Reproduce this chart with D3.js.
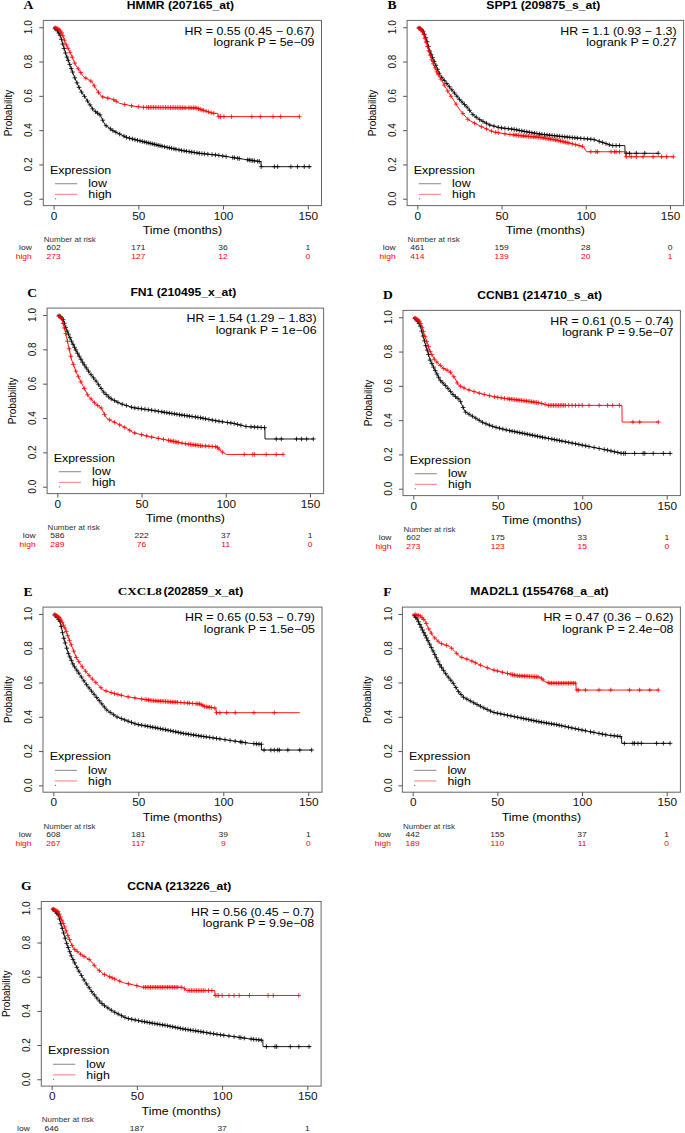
<!DOCTYPE html>
<html><head><meta charset="utf-8">
<script src="https://cdn.jsdelivr.net/npm/d3@7"></script>
<style>html,body{margin:0;padding:0;background:#fff}</style>
</head><body>
<svg id="chart" width="685" height="1133"></svg>
<script>
// ---------------- DATA ----------------
const xTickValues = [0, 50, 100, 150];
const yTickValues = [0, 0.2, 0.4, 0.6, 0.8, 1.0];
const yTickLabels = ["0.0", "0.2", "0.4", "0.6", "0.8", "1.0"];
const riskTimes = [0, 50, 100, 150];
const groupNames = ["low", "high"];

const panelLetters = ["A", "B", "C", "D", "E", "F", "G"];
const geneNames = ["HMMR", "SPP1", "FN1", "CCNB1", "CXCL8", "MAD2L1", "CCNA"];
const probeIds = ["(207165_at)", "(209875_s_at)", "(210495_x_at)", "(214710_s_at)", "(202859_x_at)", "(1554768_a_at)", "(213226_at)"];
const hrLabels = ["HR = 0.55 (0.45 \u2212 0.67)", "HR = 1.1 (0.93 \u2212 1.3)", "HR = 1.54 (1.29 \u2212 1.83)",
  "HR = 0.61 (0.5 \u2212 0.74)", "HR = 0.65 (0.53 \u2212 0.79)", "HR = 0.47 (0.36 \u2212 0.62)", "HR = 0.56 (0.45 \u2212 0.7)"];
const pLabels = ["logrank P = 5e\u221209", "logrank P = 0.27", "logrank P = 1e\u221206", "logrank P = 9.5e\u221207",
  "logrank P = 1.5e\u221205", "logrank P = 2.4e\u221208", "logrank P = 9.9e\u221208"];
const riskLow = [[602, 171, 36, 1], [461, 159, 28, 0], [586, 222, 37, 1], [602, 175, 33, 1], [608, 181, 39, 1], [442, 155, 37, 1], [646, 187, 37, 1]];
const riskHigh = [[273, 127, 12, 0], [414, 139, 20, 1], [289, 76, 11, 0], [273, 123, 15, 0], [267, 117, 9, 0], [189, 110, 11, 0], null];

// survival curves: [time (months), probability]
const hmmrLow = [[0,1],[2,0.985],[4,0.95],[5,0.916],[7,0.85],[10,0.77],[12.7,0.70],[15.7,0.634],[19.6,0.576],[23.5,0.517],[27.5,0.488],[30.4,0.43],[35.3,0.395],[43,0.358],[49,0.342],[57,0.323],[66.7,0.30],[76.5,0.28],[86,0.265],[96,0.255],[106,0.24],[115.7,0.225],[122.4,0.216],[122.5,0.187],[152,0.187]];
const hmmrHigh = [[0,1],[3,0.99],[5,0.965],[7,0.907],[10,0.848],[13,0.78],[17.6,0.712],[22.5,0.683],[25.5,0.634],[28.4,0.595],[35,0.58],[39,0.556],[47,0.54],[53,0.533],[84,0.53],[87,0.52],[89,0.514],[94,0.498],[96.9,0.498],[97,0.479],[145,0.479]];
const spp1Low = [[0,1],[2,0.99],[3.6,0.975],[5.5,0.926],[7.5,0.858],[10.5,0.79],[13.5,0.72],[17.4,0.673],[21.4,0.624],[25.3,0.576],[29.3,0.537],[33.2,0.488],[37.2,0.46],[43,0.43],[49,0.414],[57,0.405],[65,0.39],[72.8,0.377],[82.7,0.366],[92.6,0.356],[104.5,0.346],[110.4,0.327],[115.4,0.31],[123.2,0.31],[123.3,0.265],[143,0.265]];
const spp1High = [[0,1],[2,0.99],[3.6,0.965],[6,0.887],[8.5,0.81],[11.5,0.74],[14.4,0.69],[17.4,0.638],[21.4,0.576],[25.3,0.517],[30.3,0.46],[37.2,0.424],[45,0.39],[53,0.377],[63,0.366],[72.8,0.358],[82.7,0.342],[92.6,0.319],[98.5,0.304],[100.5,0.274],[123.6,0.274],[123.7,0.245],[152,0.245]];
const fn1Low = [[0,1],[2,0.99],[3.6,0.97],[5.5,0.913],[8.5,0.845],[11.5,0.786],[15.4,0.718],[19.4,0.66],[23.4,0.61],[27.3,0.553],[31.3,0.515],[37.2,0.485],[45,0.46],[55,0.447],[65,0.431],[74.8,0.416],[84.7,0.402],[94.6,0.383],[104.5,0.369],[112.4,0.35],[123.2,0.344],[123.3,0.278],[152,0.278]];
const fn1High = [[0,1],[2.6,0.98],[4.5,0.913],[6.5,0.825],[8.5,0.738],[11.5,0.66],[15.4,0.583],[18.4,0.528],[22.4,0.485],[26.3,0.456],[27.5,0.43],[29.3,0.398],[35.2,0.369],[41.2,0.34],[45,0.315],[55,0.291],[65,0.272],[74.8,0.252],[84.7,0.239],[94.6,0.233],[97.6,0.204],[100.5,0.188],[134,0.188]];
const ccnb1Low = [[0,1],[2,0.985],[4,0.955],[7,0.848],[10,0.75],[12.8,0.693],[15.8,0.634],[19.7,0.595],[23.7,0.547],[27.6,0.517],[30.6,0.449],[35.5,0.42],[41.4,0.385],[47.4,0.362],[55.3,0.342],[65,0.323],[75,0.303],[84.9,0.284],[94.7,0.265],[104.6,0.245],[114.5,0.226],[123.4,0.206],[152,0.206]];
const ccnb1High = [[0,1],[2,0.99],[4,0.975],[7,0.887],[10,0.8],[12.8,0.75],[17.8,0.702],[21.7,0.683],[24.7,0.644],[26.6,0.605],[31.6,0.58],[39.5,0.556],[47.4,0.537],[55.3,0.525],[65,0.514],[75,0.5],[80,0.486],[123.5,0.486],[123.6,0.389],[145,0.389]];
const cxcl8Low = [[0,1],[2,0.985],[4,0.955],[5.9,0.868],[8.8,0.77],[11.8,0.702],[15.7,0.644],[19.6,0.586],[23.5,0.537],[27.5,0.488],[31.4,0.44],[37.3,0.4],[43,0.378],[49,0.356],[57,0.342],[66.7,0.323],[76.5,0.303],[86.3,0.288],[96,0.274],[106,0.259],[115.7,0.245],[122.4,0.24],[122.5,0.206],[152,0.206]];
const cxcl8High = [[0,1],[2,0.99],[4,0.975],[6.9,0.916],[9.8,0.838],[13.7,0.741],[17.6,0.683],[21.6,0.634],[25.5,0.595],[29.4,0.556],[35.3,0.537],[43,0.518],[49,0.508],[58.8,0.494],[76.5,0.482],[86.3,0.475],[89,0.46],[95.7,0.45],[95.8,0.424],[145,0.424]];
const mad2l1Low = [[0,1],[2.4,0.975],[5.3,0.916],[8.3,0.858],[12.2,0.78],[16.1,0.702],[20,0.644],[24,0.595],[27,0.547],[30,0.514],[35.8,0.483],[41.7,0.453],[47.6,0.426],[55.5,0.41],[65.4,0.39],[75.2,0.37],[85,0.354],[94.9,0.333],[104.7,0.313],[114.6,0.294],[123.3,0.284],[123.4,0.245],[152,0.245]];
const mad2l1High = [[0,1],[4.3,0.99],[7.3,0.96],[9.3,0.916],[12.2,0.868],[16.1,0.83],[22,0.81],[25,0.78],[28,0.75],[33.9,0.73],[39.8,0.702],[47.6,0.673],[55.5,0.654],[61.4,0.64],[75.2,0.632],[78.1,0.605],[81,0.596],[96.4,0.596],[96.5,0.556],[145,0.556]];
const ccnaLow = [[0,1],[2,0.985],[3.9,0.961],[5.9,0.893],[8.8,0.795],[11.7,0.717],[15.6,0.639],[19.6,0.571],[23.5,0.513],[27.4,0.464],[30.3,0.435],[36.2,0.396],[44,0.357],[51.8,0.341],[59.7,0.327],[67.5,0.314],[77.3,0.294],[87,0.279],[96.8,0.263],[106.6,0.25],[116.4,0.236],[123.9,0.228],[124,0.191],[152,0.191]];
const ccnaHigh = [[0,1],[2,0.99],[3.9,0.98],[6.8,0.912],[9.8,0.834],[12.7,0.766],[17.6,0.727],[22.5,0.698],[26.4,0.649],[30.3,0.616],[36.2,0.59],[42,0.565],[48,0.552],[53.8,0.538],[77,0.538],[79.2,0.519],[95.7,0.519],[95.8,0.49],[145,0.49]];

// censoring times (months)
const hmmrLowCens = [0.8,1.5,2.3,3.1,3.8,4.6,5.4,6.2,7,7.9,8.6,9.5,10.4,11.2,12.5,13.8,15,16.5,18.2,20,21.5,23,24.8,26,27.4,29,31,33.5,35,36.8,39,41.5,43,44.8,46.5,48,49.5,51,52.3,53.5,54.7,55.8,57,58.2,59.4,60.5,61.7,62.8,64,65.5,67,68.3,69.6,71,72.2,74,75.5,77,78.4,80,81.5,83,84.6,86,87.5,89,91,93.5,95.5,97.5,99.8,101.8,105.7,106.7,108.6,109.6,114.5,115.5,116.5,117.5,118.5,120.4,121.4,122.5,130.3,132.2,140,143.9,147.9,150.8];
const hmmrHighCens = [1,1.8,2.5,3.3,4,4.8,5.5,6.4,7.5,8.5,9.7,11,12.5,14.5,16,19,22,24,26.5,29,32,35.5,37,42,46,50,53,55,56,57,58,59,60,61,62,63,64,65,66,67,68,69,70,71,72,73,74,75,76,77,78,79.5,80.5,81.5,82.5,83.5,84.5,85.5,86.5,87.5,88.5,90,91.5,93,94.5,97.5,98.5,100.5,105,117,122,129.5,134,145];
const spp1LowCens = [1,1.8,2.6,3.4,4.2,5,5.8,6.6,7.4,8.2,9,10,11,12,13,14.5,16,17.5,19,20.5,22,23.5,25,26.5,28,29.5,31,33,35,37,39,41,43,45.5,48,50,52,54,56,57.5,59,60.5,62,63.5,65,66.5,68,69.5,71,72.5,74,75.5,77,78.5,80,81.5,83,84.5,86,87.5,89,90.5,92,93.5,95,97,99,101,103,105,108,110,112,114,116,118,120,124,126,130,135,143];
const spp1HighCens = [1,1.7,2.4,3.1,3.8,4.5,5.2,6,6.8,7.6,8.5,9.5,10.5,11.5,12.5,14,16,18,20,23,27,30,34,38,41,44,46.5,48,52,55,57,58,59,60,61,62,63,64,65,66,67,68,69,70,71,72,73,74,75,76,77,78,79,80,81,82,83,84,85,86,87,88,89,90,92,94,96,98,103,106,107,115,117,118,120,124,127,130,134,140,145,148,152];
const fn1LowCens = [1,1.8,2.6,3.4,4.2,5,5.8,6.6,7.5,8.4,9.3,10.2,11,12,13,14,15,16,17.2,18.5,20,21.5,23,24.5,26,27.5,29,30.5,32,34,36,38.5,41,44,46,48,50,52,54,56,58,60,62,63.5,65,66.5,68,69.5,71,72.5,74,75.5,77,78.5,80,82,83.5,85,86.5,88,90,92,94,96,98,101,103,105,107,109,112,115,117,119,121,123,130,133,142,145,148,152];
const fn1HighCens = [1,1.8,2.6,3.4,4.2,5,6,7,8,9.5,11,12.5,14,16,18,20,22,24,26,28,31,34,37,40,43,46,50,53,56,60,63,66,67,68,69,70,71,72,74,76,78,79,80,81,82,83,84,85,86,88,90,92,94,95,96,98,111,116,117,124,130,134];
const ccnb1LowCens = [1,1.8,2.6,3.4,4.2,5,5.8,6.6,7.4,8.2,9,10,11,12,13,14,15,16.2,17.5,19,20.5,22,23.5,25,26.5,28,29.5,31,33,35,37,39,41,43,45,47,49,51,53,55,57,58.5,60,61.5,63,64.5,66,67.5,69,70.5,72,73.5,75,76.5,78,80,82,83.5,85,86.5,88,90,92,94,96,98,100,102,104,107,110,113,115,117,119,121,123,124.5,125.5,131,136,137,142,148,152];
const ccnb1HighCens = [1,1.6,2.3,3,3.7,4.4,5.2,6,7,8,9,10,11,12.5,14,16,18,20,22,24,26,28,30,33,36,39,42,45,48,50,52,54,56,57,58,59,60,61,62,63,64,65,66,67,68,69,70,71,72,73,74,76,78,80,81,82,83,84,85,86,87,88,89,90,92,94,96,98,100,104,110,115,118,122,130,134,145];
const cxcl8LowCens = [0.8,1.5,2.3,3.1,3.8,4.6,5.4,6.2,7,7.9,8.8,9.7,10.6,11.5,12.5,13.8,15,16.5,18,19.5,21,22.5,24,25.5,27,28.5,30,31.5,33.5,35.5,37.5,40,42,44,46,48,50,52,54,55.5,57,58.5,60,61.5,63,64.5,66,67.5,69,70.5,72,73.5,75,76.5,78,79.5,81,82.5,84,85.5,87,88.5,90,92,94,96,98,101,104,107,110,111,113,118,119.5,121,122.4,124,128,130,132,133,138,145,152];
const cxcl8HighCens = [1,1.7,2.4,3.1,3.8,4.5,5.2,6,6.8,7.6,8.5,9.5,10.5,12,13.5,15,17,19,21,23,25,28,31,34,36,38,40,44,48,52,54,55,56,57,58,59,60,61,62,63,64,65,66,67,68,69,70,71,72,73,75,77,79,80,82,84,85,86,87,88,89,90,91,92,93,95,96,98,102,107,118,130];
const mad2l1LowCens = [1,1.8,2.6,3.4,4.2,5,5.8,6.6,7.4,8.2,9,10,11,12,13,14,15,16,17,18.2,19.5,21,22.5,24,25.5,27,28.5,30,32,34,36,38,40,42,44,46,48,50,52,54,56,58,60,62,64,65.5,67,68.5,70,71.5,73,74.5,76,77.5,79,80.5,82,83.5,85,86.5,88,90,92,94,96,98,100,102,105,107,110,112,114,117,119,121,122.5,125,130,131,133,135,144,148,152];
const mad2l1HighCens = [1.5,2.5,3.5,4.5,5.5,6.5,8,9.5,11,13,15,17,20,23,26,29,32,35,37,40,44,48,50,53,56,58,59,60,61,62,63,64,65,66,67,68,69,70,71,72,73,74,76,77,80,81,82,83,84,85,86,87,88,89,90,91,92,93,94,95,96,97,98,102,110,117,128,134,140,145];
const ccnaLowCens = [0.8,1.5,2.3,3.1,3.8,4.6,5.4,6.2,7,7.9,8.8,9.7,10.6,11.5,12.5,13.5,14.8,16,17.5,19,20.5,22,23.5,25,26.5,28,29.5,31,33,35,37,39,41,43,45,47,49,51,53,54.5,56,57.5,59,60.5,62,63.5,65,66.5,68,69.5,71,72.5,74,75.5,77,78.5,80,81.5,83,84.5,86,87.5,89,91,93,95,97,99,101,104,107,110,111,113,117,118.5,120,121.5,123,126,131,132,140,145,151];
const ccnaHighCens = [1,1.7,2.4,3.1,3.8,4.5,5.2,6,6.8,7.6,8.5,9.5,10.5,12,13.5,15,17,19,22,25,28,31,34,35.5,37,40,45,50,54,55,56,57,58,59,60,61,62,63,64,65,66,67,68,69,70,71,72,73,74,76,78,80,81,82,83,84,85,86,87,88,89,90,92,94,96,97,98,100,104,107,110,116,127,130,145];

const curvesLow = [hmmrLow, spp1Low, fn1Low, ccnb1Low, cxcl8Low, mad2l1Low, ccnaLow];
const curvesHigh = [hmmrHigh, spp1High, fn1High, ccnb1High, cxcl8High, mad2l1High, ccnaHigh];
const censLow = [hmmrLowCens, spp1LowCens, fn1LowCens, ccnb1LowCens, cxcl8LowCens, mad2l1LowCens, ccnaLowCens];
const censHigh = [hmmrHighCens, spp1HighCens, fn1HighCens, ccnb1HighCens, cxcl8HighCens, mad2l1HighCens, ccnaHighCens];

// ---------------- LAYOUT (plot frame of each panel, px) ----------------
const frames = [
  {l: 43.3, r: 321.5, t: 20.4, b: 205.6},
  {l: 407.1, r: 683.6, t: 20.4, b: 205.6},
  {l: 47.1, r: 323.6, t: 308.1, b: 493.6},
  {l: 403.0, r: 680.4, t: 310.4, b: 495.6},
  {l: 43.0, r: 322.0, t: 607.1, b: 792.2},
  {l: 402.4, r: 680.4, t: 607.1, b: 792.2},
  {l: 41.3, r: 321.1, t: 901.5, b: 1086.1}
];
const SX = 1.18;
const SANS = "'Liberation Sans', Arial, Helvetica, sans-serif";
const SERIF = "'Liberation Serif', 'Times New Roman', serif";
const RED = "#ff0000";

const svg = d3.select("#chart");

function label(g, x, y, str, o = {}) {
  const tr = o.rotate ? `translate(${x},${y}) rotate(-90) scale(1,${SX})` : `translate(${x},${y}) scale(${SX},1)`;
  return g.append("text")
    .attr("transform", tr)
    .attr("dy", "0.35em")
    .attr("text-anchor", o.anchor || "middle")
    .attr("font-family", o.family || SANS)
    .attr("font-size", o.size || 10.5)
    .attr("font-weight", o.weight || "normal")
    .attr("fill", o.color || "#000")
    .text(str);
}

function probAt(pts, t) {
  for (let i = 0; i < pts.length - 1; i++) {
    const a = pts[i], b = pts[i + 1];
    if (t >= a[0] && t < b[0]) {
      if (b[0] === a[0]) continue;
      return a[1] + (b[1] - a[1]) * (t - a[0]) / (b[0] - a[0]);
    }
  }
  return pts[pts.length - 1][1];
}

frames.forEach((f, i) => {
  const g = svg.append("g");
  const x = d3.scaleLinear().domain([-6.08, 158.08]).range([f.l, f.r]);
  const y = d3.scaleLinear().domain([-0.04, 1.04]).range([f.b, f.t]);
  const cx = (f.l + f.r) / 2, cy = (f.t + f.b) / 2;

  // panel letter & title
  label(g, f.l - 15, f.t - 15.5, panelLetters[i], {family: SERIF, weight: "bold", size: 11.5});
  const title = label(g, cx - 2, f.t - 15.5, "", {weight: "bold", size: 10.3});
  if (geneNames[i] === "CXCL8") {
    title.append("tspan").attr("font-family", SERIF).attr("font-size", 11.2).text(geneNames[i]);
    title.append("tspan").attr("dx", 1.5).text(probeIds[i]);
  } else {
    title.text(geneNames[i] + " " + probeIds[i]);
  }

  // frame
  g.append("rect").attr("x", f.l).attr("y", f.t).attr("width", f.r - f.l).attr("height", f.b - f.t)
    .attr("fill", "none").attr("stroke", "#666").attr("stroke-width", 1);

  // axes (ticks)
  const ax = g.append("g").attr("transform", `translate(0,${f.b})`)
    .call(d3.axisBottom(x).tickValues(xTickValues).tickSize(4).tickFormat(d => d));
  ax.select(".domain").remove();
  ax.selectAll("line").attr("stroke", "#555");
  ax.selectAll("text").attr("font-family", SANS).attr("font-size", 10).attr("fill", "#111")
    .attr("y", 7).attr("transform", `scale(${SX},1)`);
  const ay = g.append("g").attr("transform", `translate(${f.l},0)`)
    .call(d3.axisLeft(y).tickValues(yTickValues).tickSize(4).tickFormat(""));
  ay.select(".domain").remove();
  ay.selectAll("line").attr("stroke", "#555");
  yTickValues.forEach((v, k) => label(g, f.l - 15, y(v), yTickLabels[k], {rotate: true, size: 10, color: "#111"}));

  label(g, f.l - 35.5, cy, "Probability", {rotate: true, size: 10});
  label(g, cx, f.b + 25, "Time (months)", {size: 10.5});

  // HR & p
  label(g, f.r - 7, f.t + 10.7, hrLabels[i], {anchor: "end"});
  label(g, f.r - 7, f.t + 22.3, pLabels[i], {anchor: "end"});

  // curves
  const line = d3.line().x(d => x(d[0])).y(d => y(d[1]));
  const groups = [
    {pts: curvesLow[i], cens: censLow[i], color: "#000"},
    {pts: curvesHigh[i], cens: censHigh[i], color: RED}
  ];
  groups.forEach(gr => {
    g.append("path").attr("d", line(gr.pts)).attr("fill", "none")
      .attr("stroke", gr.color).attr("stroke-width", 0.9);
    g.append("g").selectAll("path").data(gr.cens).join("path")
      .attr("transform", d => `translate(${x(d)},${y(probAt(gr.pts, d))})`)
      .attr("d", "M-2.3,0H2.3M0,-2.3V2.3")
      .attr("stroke", gr.color).attr("stroke-width", 0.8).attr("fill", "none");
  });

  // legend
  const x0 = x(0), y0 = y(0);
  label(g, x0 - 3.6, y0 - 28.7, "Expression", {anchor: "start"});
  const legColors = ["#888", "#ff7a7a"];
  groupNames.forEach((nm, k) => {
    const ly = y0 - 15 + k * 10.6;
    g.append("line").attr("x1", x0 + 1.4).attr("x2", x0 + 23.7).attr("y1", ly).attr("y2", ly)
      .attr("stroke", legColors[k]).attr("stroke-width", 1);
    label(g, x0 + 34.7, ly, nm, {anchor: "start"});
  });
  g.append("circle").attr("cx", x0 + 2).attr("cy", y0).attr("r", 0.6).attr("fill", "#444");

  // number at risk
  label(g, f.l + 0.5, f.b + 34, "Number at risk", {anchor: "start", size: 6.8, color: "#333"});
  const rows = [{vals: riskLow[i], name: "low", color: "#222"}, {vals: riskHigh[i], name: "high", color: RED}];
  rows.forEach((row, k) => {
    if (!row.vals) return;
    const ry = f.b + 42.3 + k * 8.7;
    label(g, f.l - 11.5, ry, row.name, {anchor: "end", size: 7.2, color: row.color});
    riskTimes.forEach((t, j) => label(g, x(t), ry, String(row.vals[j]), {size: 7.2, color: row.color}));
  });
});
</script>
</body></html>
